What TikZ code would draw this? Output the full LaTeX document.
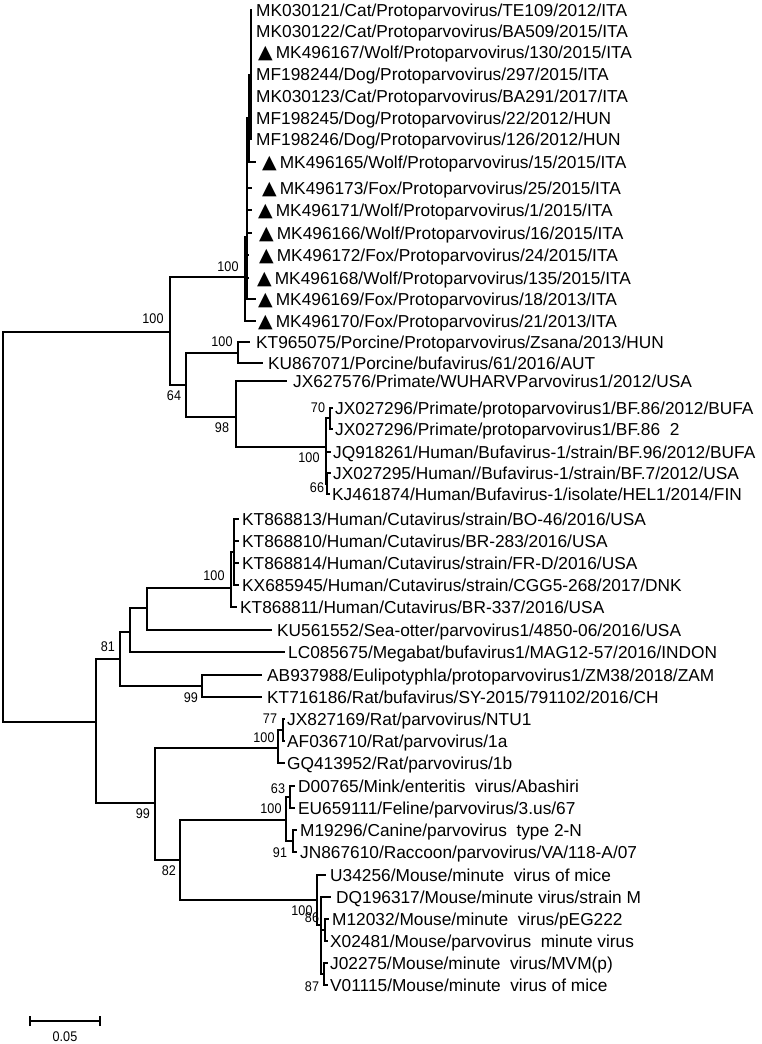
\documentclass[tikz,border=0pt]{standalone}
\usepackage{fontspec}
\setmainfont{Liberation Sans}
\newfontfamily\numfont[FakeStretch=0.9]{Liberation Sans}
\newfontfamily\symfont{DejaVu Sans}
\newcommand\tri{{\symfont\fontsize{19}{19}\selectfont ▲}\hspace{3pt}}
\newcommand\mkleaf[5]{\coordinate (#1) at (#2,#4); \node[leaf] (#1t) at (#3,#4+6.2) {#5};}
\tikzset{
  br/.style={line width=1.2pt},
  leaf/.style={anchor=base west, inner sep=0pt, font=\fontsize{17.3}{20}\selectfont},
  sup/.style={inner sep=0pt, font=\numfont\fontsize{14}{14}\selectfont},
}
\begin{document}
\begin{tikzpicture}[x=1pt,y=-1pt]
\useasboundingbox (0,0) rectangle (762,1044);
% internal nodes
\coordinate (R) at (3,527);
\coordinate (A) at (170,332);
\coordinate (T0) at (245,277);
\coordinate (T1) at (247,237);
\coordinate (T2) at (249,118);
\coordinate (T3) at (251,75);
\coordinate (B) at (186,385);
\coordinate (C) at (238,353);
\coordinate (D) at (236,417);
\coordinate (E) at (326,447);
\coordinate (P70) at (330,418);
\coordinate (P66) at (327,484);
\coordinate (F) at (96,722);
\coordinate (G) at (120,659);
\coordinate (H) at (130,632);
\coordinate (I) at (147,608);
\coordinate (J) at (231,588);
\coordinate (Ja) at (234,552);
\coordinate (K) at (202,686);
\coordinate (Lc) at (155,803);
\coordinate (M) at (278,748);
\coordinate (M1) at (283,730);
\coordinate (N) at (180,860);
\coordinate (O) at (286,820);
\coordinate (O1) at (290,797);
\coordinate (O2) at (293,841);
\coordinate (P) at (317,900);
\coordinate (P1) at (321,925);
\coordinate (P86) at (325,930);
\coordinate (P87) at (324,974);
% leaves
\mkleaf{l1}{252}{256}{10}{MK030121/Cat/Protoparvovirus/TE109/2012/ITA}
\mkleaf{l2}{252}{256}{31}{MK030122/Cat/Protoparvovirus/BA509/2015/ITA}
\mkleaf{l3}{252}{258}{52}{\tri MK496167/Wolf/Protoparvovirus/130/2015/ITA}
\mkleaf{l4}{252}{256}{74}{MF198244/Dog/Protoparvovirus/297/2015/ITA}
\mkleaf{l5}{252}{256}{96}{MK030123/Cat/Protoparvovirus/BA291/2017/ITA}
\mkleaf{l6}{252}{256}{118}{MF198245/Dog/Protoparvovirus/22/2012/HUN}
\mkleaf{l7}{252}{256}{139}{MF198246/Dog/Protoparvovirus/126/2012/HUN}
\mkleaf{l8}{256}{262}{162}{\tri MK496165/Wolf/Protoparvovirus/15/2015/ITA}
\mkleaf{l9}{252}{262}{188}{\tri MK496173/Fox/Protoparvovirus/25/2015/ITA}
\mkleaf{l10}{252}{258}{210}{\tri MK496171/Wolf/Protoparvovirus/1/2015/ITA}
\mkleaf{l11}{252}{259}{233}{\tri MK496166/Wolf/Protoparvovirus/16/2015/ITA}
\mkleaf{l12}{249}{259}{255}{\tri MK496172/Fox/Protoparvovirus/24/2015/ITA}
\mkleaf{l13}{249}{257}{278}{\tri MK496168/Wolf/Protoparvovirus/135/2015/ITA}
\mkleaf{l14}{256}{258}{299}{\tri MK496169/Fox/Protoparvovirus/18/2013/ITA}
\mkleaf{l15}{256}{258}{321}{\tri MK496170/Fox/Protoparvovirus/21/2013/ITA}
\mkleaf{l16}{250}{256}{342}{KT965075/Porcine/Protoparvovirus/Zsana/2013/HUN}
\mkleaf{l17}{263}{268}{363}{KU867071/Porcine/bufavirus/61/2016/AUT}
\mkleaf{l18}{287}{293}{381}{JX627576/Primate/WUHARVParvovirus1/2012/USA}
\mkleaf{l19}{333}{335}{408}{JX027296/Primate/protoparvovirus1/BF.86/2012/BUFA}
\mkleaf{l20}{333}{335}{429}{JX027296/Primate/protoparvovirus1/BF.86\ \ 2}
\mkleaf{l21}{331}{333}{452}{JQ918261/Human/Bufavirus-1/strain/BF.96/2012/BUFA}
\mkleaf{l22}{331}{333}{473}{JX027295/Human//Bufavirus-1/strain/BF.7/2012/USA}
\mkleaf{l23}{330}{332}{494}{KJ461874/Human/Bufavirus-1/isolate/HEL1/2014/FIN}
\mkleaf{l24}{239}{242}{519}{KT868813/Human/Cutavirus/strain/BO-46/2016/USA}
\mkleaf{l25}{239}{242}{541}{KT868810/Human/Cutavirus/BR-283/2016/USA}
\mkleaf{l26}{239}{242}{563}{KT868814/Human/Cutavirus/strain/FR-D/2016/USA}
\mkleaf{l27}{239}{242}{585}{KX685945/Human/Cutavirus/strain/CGG5-268/2017/DNK}
\mkleaf{l28}{237}{240}{607}{KT868811/Human/Cutavirus/BR-337/2016/USA}
\mkleaf{l29}{272}{277}{630}{KU561552/Sea-otter/parvovirus1/4850-06/2016/USA}
\mkleaf{l30}{285}{288}{652}{LC085675/Megabat/bufavirus1/MAG12-57/2016/INDON}
\mkleaf{l31}{262}{267}{675}{AB937988/Eulipotyphla/protoparvovirus1/ZM38/2018/ZAM}
\mkleaf{l32}{262}{267}{697}{KT716186/Rat/bufavirus/SY-2015/791102/2016/CH}
\mkleaf{l33}{285}{287}{719}{JX827169/Rat/parvovirus/NTU1}
\mkleaf{l34}{285}{287}{741}{AF036710/Rat/parvovirus/1a}
\mkleaf{l35}{285}{287}{763}{GQ413952/Rat/parvovirus/1b}
\mkleaf{l36}{295}{298}{786}{D00765/Mink/enteritis\ \ virus/Abashiri}
\mkleaf{l37}{295}{298}{808}{EU659111/Feline/parvovirus/3.us/67}
\mkleaf{l38}{297}{300}{830}{M19296/Canine/parvovirus\ \ type 2-N}
\mkleaf{l39}{297}{300}{852}{JN867610/Raccoon/parvovirus/VA/118-A/07}
\mkleaf{l40}{326}{330}{875}{U34256/Mouse/minute\ \ virus of mice}
\mkleaf{l41}{331}{336}{897}{DQ196317/Mouse/minute virus/strain M}
\mkleaf{l42}{329}{332}{919}{M12032/Mouse/minute\ \ virus/pEG222}
\mkleaf{l43}{328}{330}{941}{X02481/Mouse/parvovirus\ \ minute virus}
\mkleaf{l44}{328}{330}{963}{J02275/Mouse/minute\ \ virus/MVM(p)}
\mkleaf{l45}{328}{330}{985}{V01115/Mouse/minute\ \ virus of mice}
% branches
\draw[br] (R) |- (A); \draw[br] (R) |- (F);
\draw[br] (A) |- (T0); \draw[br] (A) |- (B);
\draw[br] (T0) |- (T1); \draw[br] (T0) |- (l15);
\draw[br] (T1) |- (T2); \draw[br] (T1) |- (l14);
\foreach \n in {l9,l10,l11,l12,l13} {\draw[br] (T1) |- (\n);}
\draw[br] (T2) |- (T3); \draw[br] (T2) |- (l8);
\foreach \n in {l1,l2,l3,l4,l5,l6,l7} {\draw[br] (T3) |- (\n);}
\draw[br] (B) |- (C); \draw[br] (B) |- (D);
\draw[br] (C) |- (l16); \draw[br] (C) |- (l17);
\draw[br] (D) |- (l18); \draw[br] (D) |- (E);
\draw[br] (E) |- (P70); \draw[br] (E) |- (l21); \draw[br] (E) |- (P66);
\draw[br] (P70) |- (l19); \draw[br] (P70) |- (l20);
\draw[br] (P66) |- (l22); \draw[br] (P66) |- (l23);
\draw[br] (F) |- (G); \draw[br] (F) |- (Lc);
\draw[br] (G) |- (H); \draw[br] (G) |- (K);
\draw[br] (H) |- (I); \draw[br] (H) |- (l30);
\draw[br] (I) |- (J); \draw[br] (I) |- (l29);
\draw[br] (J) |- (Ja); \draw[br] (J) |- (l28);
\foreach \n in {l24,l25,l26,l27} {\draw[br] (Ja) |- (\n);}
\draw[br] (K) |- (l31); \draw[br] (K) |- (l32);
\draw[br] (Lc) |- (M); \draw[br] (Lc) |- (N);
\draw[br] (M) |- (M1); \draw[br] (M) |- (l35);
\draw[br] (M1) |- (l33); \draw[br] (M1) |- (l34);
\draw[br] (N) |- (O); \draw[br] (N) |- (P);
\draw[br] (O) |- (O1); \draw[br] (O) |- (O2);
\draw[br] (O1) |- (l36); \draw[br] (O1) |- (l37);
\draw[br] (O2) |- (l38); \draw[br] (O2) |- (l39);
\draw[br] (P) |- (l40); \draw[br] (P) |- (P1);
\draw[br] (P1) |- (l41); \draw[br] (P1) |- (P86); \draw[br] (P1) |- (P87);
\draw[br] (P86) |- (l42); \draw[br] (P86) |- (l43);
\draw[br] (P87) |- (l44); \draw[br] (P87) |- (l45);
% support values
\node[sup] (sA) at (153,319) {100};
\node[sup] (sT0) at (228,267) {100};
\node[sup] (sC) at (222,342) {100};
\node[sup] (sB) at (174,396) {64};
\node[sup] (sD) at (222,428) {98};
\node[sup] (sE) at (309,458) {100};
\node[sup] (s70) at (318,408) {70};
\node[sup] (s66) at (317,488) {66};
\node[sup] (sJ) at (214,576) {100};
\node[sup] (sG) at (108,647) {81};
\node[sup] (sK) at (191,698) {99};
\node[sup] (s77) at (270,719) {77};
\node[sup] (sM) at (264,738) {100};
\node[sup] (s63) at (278,789) {63};
\node[sup] (sO) at (271,809) {100};
\node[sup] (s91) at (280,853) {91};
\node[sup] (sL) at (143,814) {99};
\node[sup] (sN) at (169,871) {82};
\node[sup] (sP) at (302,911) {100};
\node[sup] (s86) at (312,918) {86};
\node[sup] (s87) at (312,987) {87};
% scale bar
\coordinate (sb1) at (30,1021);
\coordinate (sb2) at (100,1021);
\draw[br] (sb1) -- (sb2);
\draw[br] ([yshift=-5pt]sb1) -- ([yshift=5pt]sb1);
\draw[br] ([yshift=-5pt]sb2) -- ([yshift=5pt]sb2);
\node[sup] (sbl) at (65,1037) {0.05};
\end{tikzpicture}
\end{document}
